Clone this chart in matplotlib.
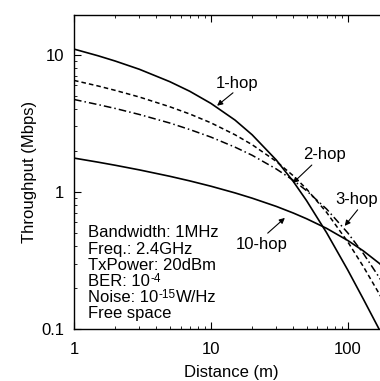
import matplotlib
matplotlib.use("Agg")
import matplotlib.pyplot as plt

# distances (m) and throughput (Mbps)
distance = [1, 1.5, 2, 3, 5, 7, 10, 15, 20, 30, 40, 50, 70, 100, 130, 170, 200]
hop1 = [11.0, 9.83, 9.00, 7.84, 6.37, 5.42, 4.42, 3.34, 2.61, 1.71, 1.19, 0.863,
        0.504, 0.269, 0.165, 0.099, 0.072]
hop2 = [6.50, 5.92, 5.50, 4.92, 4.18, 3.70, 3.19, 2.61, 2.21, 1.67, 1.31, 1.05,
        0.709, 0.432, 0.285, 0.180, 0.134]
hop3 = [4.72, 4.33, 4.06, 3.67, 3.18, 2.85, 2.51, 2.12, 1.85, 1.47, 1.215, 1.02,
        0.75, 0.502, 0.355, 0.237, 0.182]
hop10 = [1.764, 1.647, 1.564, 1.447, 1.300, 1.203, 1.100, 0.983, 0.900, 0.784,
         0.701, 0.637, 0.542, 0.442, 0.371, 0.301, 0.261]

# (text, superscript, text after superscript)
info_lines = [("Bandwidth: 1MHz", "", ""), ("Freq.: 2.4GHz", "", ""),
              ("TxPower: 20dBm", "", ""), ("BER: 10", "-4", ""),
              ("Noise: 10", "-15", "W/Hz"), ("Free space", "", "")]

plt.rcParams["font.family"] = ["Liberation Sans", "DejaVu Sans"]

fig = plt.figure(figsize=(3.8, 3.81), dpi=100)
ax = fig.add_axes([74 / 380, 52 / 381, 315 / 380, 314 / 381])

ax.plot(distance, hop1, color="black", lw=1.2, ls="-")
ax.plot(distance, hop2, color="black", lw=1.1, ls=(0, (3, 2)))
ax.plot(distance, hop3, color="black", lw=1.1, ls=(0, (5, 2, 1, 2)))
ax.plot(distance, hop10, color="black", lw=1.2, ls="-")

ax.set_xscale("log")
ax.set_yscale("log")
ax.set_xlim(1, 200)
ax.set_ylim(0.1, 19.5)

ax.set_xticks([1, 10, 100])
ax.set_xticklabels(["1", "10", "100"])
ax.set_yticks([0.1, 1, 10])
ax.set_yticklabels(["0.1", "1", "10"])
ax.tick_params(which="both", direction="in", top=True, right=False, labelsize=12)
ax.tick_params(which="major", length=5)
ax.tick_params(which="minor", length=2.5)
ax.tick_params(axis="x", which="major", pad=9)
ax.tick_params(axis="y", which="major", pad=7)
for sp in ax.spines.values():
    sp.set_linewidth(1.0)

ax.set_xlabel("Distance (m)", fontsize=12, labelpad=6)
ax.set_ylabel("Throughput (Mbps)", fontsize=12, labelpad=3)

arrow = dict(arrowstyle="-|>", color="black", lw=0.8, mutation_scale=8,
             shrinkA=0, shrinkB=0)
ax.annotate("", xy=(11.1, 4.25), xytext=(14.5, 5.28), arrowprops=arrow)
ax.text(15.5, 6.2, "1-hop", ha="center", va="center", fontsize=12)
ax.annotate("", xy=(39.7, 1.16), xytext=(54.6, 1.57), arrowprops=arrow)
ax.text(68, 1.86, "2-hop", ha="center", va="center", fontsize=12)
ax.annotate("", xy=(95, 0.565), xytext=(118, 0.74), arrowprops=arrow)
ax.text(116, 0.875, "3-hop", ha="center", va="center", fontsize=12)
ax.annotate("", xy=(34.7, 0.646), xytext=(26, 0.50), arrowprops=arrow)
ax.text(23.6, 0.41, "10-hop", ha="center", va="center", fontsize=12)

# parameter block, superscripts drawn as small raised text
for i, (base, sup, tail) in enumerate(info_lines):
    t = ax.text(0.044, 0.292 - i * 0.0516, base, transform=ax.transAxes,
                ha="left", va="baseline", fontsize=12)
    if sup:
        s = ax.annotate(sup, xy=(1, 1), xycoords=t, xytext=(0.3, 0.5),
                        textcoords="offset points", ha="left", va="top",
                        fontsize=8.5)
        if tail:
            ax.annotate(tail, xy=(1, 0), xycoords=(s, t), xytext=(0.3, 0),
                        textcoords="offset points", ha="left", va="bottom",
                        fontsize=12)

fig.savefig("out.png", dpi=100)
